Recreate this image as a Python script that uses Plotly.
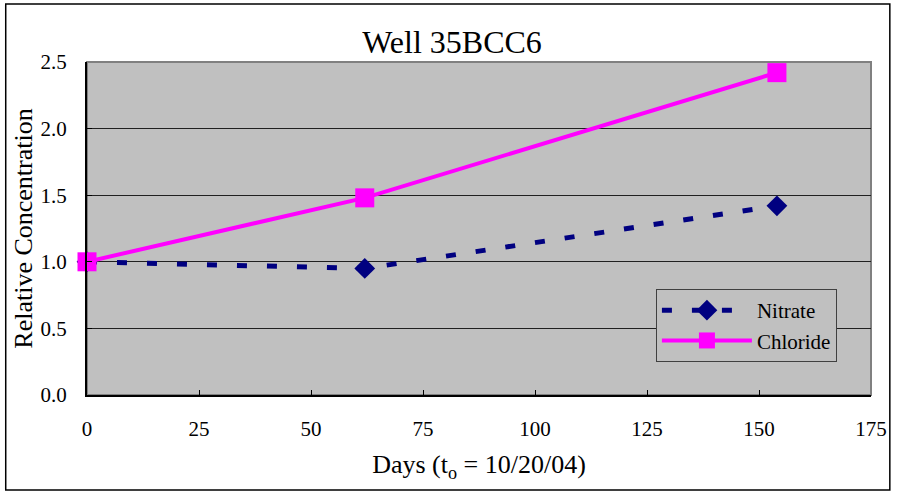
import plotly.graph_objects as go

days = [0, 62, 154]
nitrate = [1.0, 0.95, 1.42]
chloride = [1.0, 1.48, 2.42]
x_ticks = [0, 25, 50, 75, 100, 125, 150, 175]
y_ticks = [0.0, 0.5, 1.0, 1.5, 2.0, 2.5]
y_tick_labels = ["0.0", "0.5", "1.0", "1.5", "2.0", "2.5"]

FONT = "Liberation Serif"

fig = go.Figure()
fig.add_trace(go.Scatter(
    x=days, y=nitrate, name="Nitrate", mode="lines+markers",
    line=dict(color="#000080", width=5, dash="10px,20px"),
    marker=dict(symbol="diamond", size=16, color="#000080"),
    cliponaxis=False,
))
fig.add_trace(go.Scatter(
    x=days, y=chloride, name="Chloride", mode="lines+markers",
    line=dict(color="#FF00FF", width=4),
    marker=dict(symbol="square", size=19, color="#FF00FF"),
    cliponaxis=False,
))

L, R, T, B = 87, 21, 62, 98
W, H = 899, 493
pw = W - L - R
ph = H - T - B

def px_x(p):
    return (p - L) / pw

def px_y(p):
    return (H - B - p) / ph

# outer chart border
fig.add_shape(type="rect", xref="paper", yref="paper",
              x0=px_x(5), x1=px_x(897), y0=px_y(490), y1=px_y(4),
              line=dict(color="#000000", width=1.5), layer="below")
# plot area border (top/right gray)
fig.add_shape(type="rect", xref="paper", yref="paper",
              x0=0, x1=1, y0=0, y1=1,
              line=dict(color="#808080", width=2), layer="below")

fig.update_layout(
    width=W, height=H,
    margin=dict(l=L, r=R, t=T, b=B, pad=0),
    paper_bgcolor="white",
    plot_bgcolor="#C0C0C0",
    font=dict(family=FONT, size=21, color="black"),
    title=dict(text="Well 35BCC6", x=452 / W, xanchor="center",
               y=1 - 42 / H, yanchor="middle",
               font=dict(family=FONT, size=32, color="black")),
    showlegend=True,
    legend=dict(
        x=px_x(661), y=px_y(289), xanchor="left", yanchor="top",
        bgcolor="#C0C0C0", bordercolor="#404040", borderwidth=1,
        font=dict(family=FONT, size=21, color="black"),
        itemwidth=90, tracegroupgap=0,
    ),
    xaxis=dict(
        range=[0, 175], tickvals=x_ticks, ticktext=[str(v) for v in x_ticks],
        showgrid=False, zeroline=False,
        showline=True, linecolor="black", linewidth=2,
        ticks="inside", ticklen=5, tickcolor="black", tickwidth=1,
        ticklabelstandoff=14,
        tickfont=dict(family=FONT, size=21),
        title=dict(text="Days (t<sub>o</sub> = 10/20/04)", standoff=15,
                   font=dict(family=FONT, size=26)),
    ),
    yaxis=dict(
        range=[0, 2.5], tickvals=y_ticks, ticktext=y_tick_labels,
        showgrid=True, gridcolor="#202020", gridwidth=1,
        zeroline=False,
        showline=True, linecolor="black", linewidth=2,
        ticks="inside", ticklen=5, tickcolor="black", tickwidth=1,
        ticklabelstandoff=14,
        tickfont=dict(family=FONT, size=21),
        title=dict(text="Relative Concentration", standoff=0,
                   font=dict(family=FONT, size=26)),
    ),
)

fig.write_html("out.html")
